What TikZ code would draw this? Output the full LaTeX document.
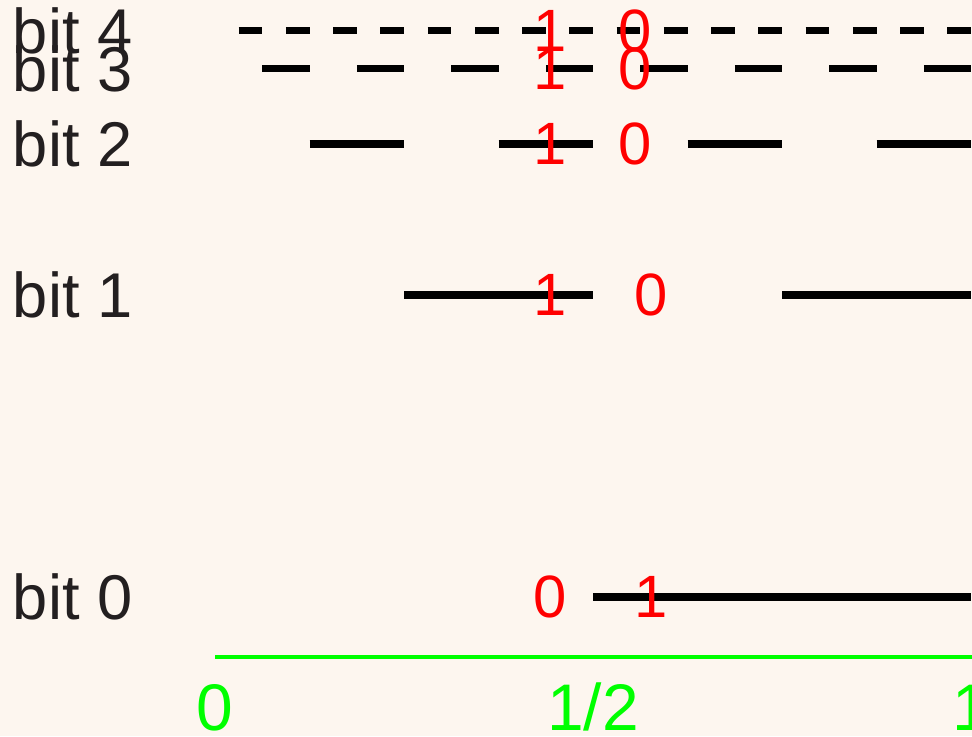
\documentclass[tikz,border=0pt]{standalone}
\usepackage{fontspec}
\setmainfont{Liberation Sans}
\definecolor{paper}{HTML}{FDF6EF}
\definecolor{ink}{HTML}{231F20}
\begin{document}
\begin{tikzpicture}[x=0.02cm, y=-0.02cm]
    \tikzset{bar/.style={draw=black, line width=0.145cm},
      bitname/.style={anchor=west, inner sep=0pt, text=ink, font=\fontsize{36}{40}\selectfont},
      digit/.style={inner sep=0pt, text=red, font=\fontsize{34}{40}\selectfont},
      tick/.style={anchor=base, inner sep=0pt, text=green, font=\fontsize{37.5}{42}\selectfont}};
    \fill[paper] (0,0) rectangle (972,736);
    \useasboundingbox (0,0) rectangle (972,736);
    % rows halve their distance to the top, bars halve their length
    \foreach \k/\dl/\dr/\xr in {0/0/1/651, 1/1/0/651, 2/1/0/635, 3/1/0/635, 4/1/0/635} {
      \pgfmathsetmacro{\yk}{-7+604/2^\k}
      \pgfmathtruncatemacro{\m}{2^\k}
      \pgfmathsetmacro{\w}{378/\m}
      \node[bitname] (bit\k) at (12.5,\yk) {bit \k};
      \foreach \j in {1,...,\m}
        \draw[bar] ({215+\w*(2*\j-1)},\yk) -- ({215+\w*2*\j},\yk);
      \node[digit] (left\k) at (550,\yk) {\dl};
      \node[digit] (right\k) at (\xr,\yk) {\dr};
    }
    % unit interval
    \coordinate (a0) at (215,657.3);
    \coordinate (a1) at (972,657.3);
    \draw[green, line width=0.08cm] (a0) -- (a1);
    \node[tick] (t0) at (215,730.5) {0};
    \node[tick] (thalf) at (593,730.5) {1/2};
    \node[tick] (t1) at (971,730.5) {1};
\end{tikzpicture}
\end{document}
